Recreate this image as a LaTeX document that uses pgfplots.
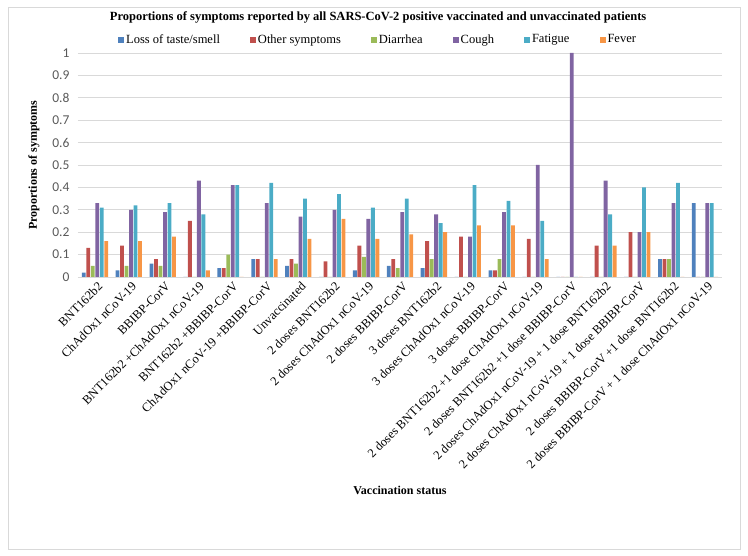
\documentclass[border=0pt]{standalone}
\usepackage{pgfplots}
\pgfplotsset{compat=1.18}
\usepackage{pgfplotstable}
\usepackage{fontspec}
\setmainfont{Liberation Serif}
\newfontfamily\calibri{Carlito}
\definecolor{c1}{HTML}{4F81BD}
\definecolor{c2}{HTML}{C0504D}
\definecolor{c3}{HTML}{9BBB59}
\definecolor{c4}{HTML}{8064A2}
\definecolor{c5}{HTML}{4BACC6}
\definecolor{c6}{HTML}{F79646}
\definecolor{gridgray}{HTML}{D9D9D9}
\definecolor{ticktext}{HTML}{595959}

\pgfplotstableread{
x loss other diarr cough fatigue fever
0 0.02 0.13 0.05 0.33 0.31 0.16
1 0.03 0.14 0.05 0.30 0.32 0.16
2 0.06 0.08 0.05 0.29 0.33 0.18
3 0 0.25 0 0.43 0.28 0.03
4 0.04 0.04 0.10 0.41 0.41 0
5 0.08 0.08 0 0.33 0.42 0.08
6 0.05 0.08 0.06 0.27 0.35 0.17
7 0 0.07 0 0.30 0.37 0.26
8 0.03 0.14 0.09 0.26 0.31 0.17
9 0.05 0.08 0.04 0.29 0.35 0.19
10 0.04 0.16 0.08 0.28 0.24 0.20
11 0 0.18 0 0.18 0.41 0.23
12 0.03 0.03 0.08 0.29 0.34 0.23
13 0 0.17 0 0.50 0.25 0.08
14 0 0 0 1.00 0 0
15 0 0.14 0 0.43 0.28 0.14
16 0 0.20 0 0.20 0.40 0.20
17 0.08 0.08 0.08 0.33 0.42 0
18 0.33 0 0 0.33 0.33 0
}\datatable

\begin{document}
\begin{tikzpicture}[x=1pt,y=1pt]
\useasboundingbox (0,0) rectangle (748,556);
\draw[gridgray, line width=0.75pt] (8,7) rectangle (740,549);
\begin{axis}[
  at={(78pt,279pt)}, anchor=south west,
  width=644pt, height=224pt, scale only axis,
  ybar=0.7pt, bar width=3.8pt,
  xmin=-0.5, xmax=18.5, ymin=0, ymax=1,
  enlargelimits=false,
  axis line style={draw=none},
  major tick length=0pt,
  ymajorgrids, major grid style={gridgray, line width=0.75pt},
  ytick={0,0.1,0.2,0.3,0.4,0.5,0.6,0.7,0.8,0.9,1},
  yticklabels={0,0.1,0.2,0.3,0.4,0.5,0.6,0.7,0.8,0.9,1},
  yticklabel style={font=\calibri\fontsize{13.5}{13.5}\selectfont, text=ticktext, xshift=-5pt},
  xtick={0,...,18},
  xticklabels={BNT162b2, ChAdOx1 nCoV-19, BBIBP-CorV, BNT162b2 +ChAdOx1 nCoV-19, BNT162b2 +BBIBP-CorV, ChAdOx1 nCoV-19 +BBIBP-CorV, Unvaccinated, 2 doses BNT162b2, 2 doses ChAdOx1 nCoV-19, 2 doses BBIBP-CorV, 3 doses BNT162b2, 3 doses ChAdOx1 nCoV-19, 3 doses BBIBP-CorV, 2 doses BNT162b2 +1 dose ChAdOx1 nCoV-19, 2 doses BNT162b2 +1 dose BBIBP-CorV, 2 doses ChAdOx1 nCoV-19 + 1 dose BNT162b2, 2 doses ChAdOx1 nCoV-19 + 1 dose BBIBP-CorV, 2 doses BBIBP-CorV +1 dose BNT162b2, 2 doses BBIBP-CorV + 1 dose ChAdOx1 nCoV-19},
  xticklabel style={rotate=45, anchor=east, font=\fontsize{12.5}{13}\selectfont, yshift=-9pt, xshift=2pt},
  title={Proportions of symptoms reported by all SARS-CoV-2 positive vaccinated and unvaccinated patients},
  title style={font=\bfseries\fontsize{12.5}{13}\selectfont, at={(axis description cs:0.466,1.13)}, anchor=center},
  xlabel={Vaccination status},
  xlabel style={font=\bfseries\fontsize{12}{13}\selectfont, at={(axis description cs:0.5,-0.951)}, anchor=center},
  ylabel={Proportions of symptoms},
  ylabel style={font=\bfseries\fontsize{12}{13}\selectfont, at={(axis description cs:-0.0685,0.5)}, anchor=center},
  legend columns=6,
  legend style={at={(axis description cs:0.466,1.06)}, anchor=center, draw=none, fill=none,
    font=\fontsize{12.5}{13}\selectfont,
    /tikz/every even column/.append style={column sep=28pt}},
  legend image code/.code={\fill[#1] (0pt,-3pt) rectangle (6pt,3pt);},
]
\addplot[fill=c1, draw=none] table[x=x, y=loss] {\datatable};
\addplot[fill=c2, draw=none] table[x=x, y=other] {\datatable};
\addplot[fill=c3, draw=none] table[x=x, y=diarr] {\datatable};
\addplot[fill=c4, draw=none] table[x=x, y=cough] {\datatable};
\addplot[fill=c5, draw=none] table[x=x, y=fatigue] {\datatable};
\addplot[fill=c6, draw=none] table[x=x, y=fever] {\datatable};
\legend{Loss of taste/smell, Other symptoms, Diarrhea, Cough, Fatigue, Fever}
\end{axis}
\end{tikzpicture}
\end{document}
